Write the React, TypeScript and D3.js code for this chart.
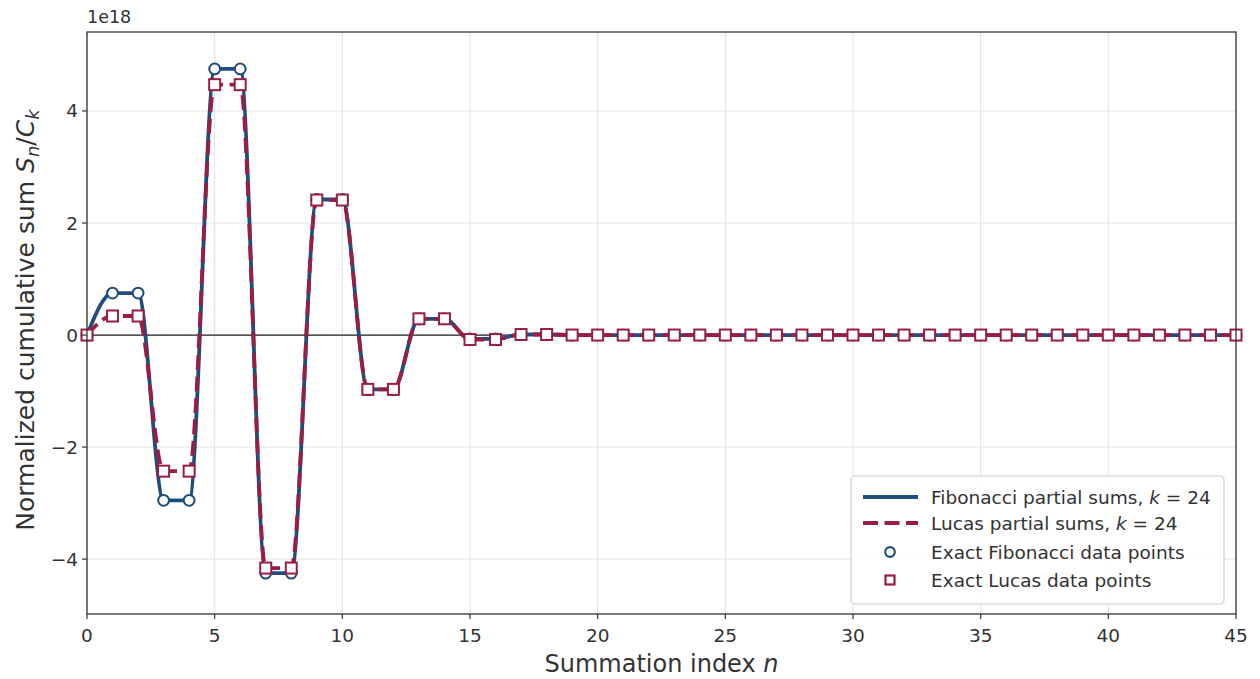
import { useEffect, useRef } from "react";
import * as d3 from "d3";

// summation index n = 0..45
const nIndex: number[] = d3.range(0, 46);

// normalized cumulative sums (units of 1e18)
const fibValues: number[] = [
  0, 0.75, 0.75, -2.95, -2.95, 4.75, 4.75, -4.25, -4.25, 2.42,
  2.42, -0.97, -0.97, 0.29, 0.29, -0.07, -0.07, 0.01, 0.01, 0,
  0, 0, 0, 0, 0, 0, 0, 0, 0, 0,
  0, 0, 0, 0, 0, 0, 0, 0, 0, 0,
  0, 0, 0, 0, 0, 0,
];
const lucasValues: number[] = [
  0, 0.34, 0.34, -2.43, -2.43, 4.47, 4.47, -4.16, -4.16, 2.41,
  2.41, -0.97, -0.97, 0.29, 0.29, -0.08, -0.08, 0.01, 0.01, 0,
  0, 0, 0, 0, 0, 0, 0, 0, 0, 0,
  0, 0, 0, 0, 0, 0, 0, 0, 0, 0,
  0, 0, 0, 0, 0, 0,
];

const xTicks: number[] = [0, 5, 10, 15, 20, 25, 30, 35, 40, 45];
const yTicks: number[] = [-4, -2, 0, 2, 4];

const BLUE = "#1f4e7d";
const RED = "#9b1c47";
const FONT = "DejaVu Sans, sans-serif";

export default function App() {
  const svgRef = useRef<SVGSVGElement | null>(null);

  useEffect(() => {
    if (!svgRef.current) return;
    const svg = d3.select(svgRef.current);
    svg.selectAll("*").remove();

    const left = 87, right = 1236, top = 32, bottom = 614;

    const x = d3.scaleLinear().domain([0, 45]).range([left, right]);
    const y = d3.scaleLinear().domain([-4.98, 5.41]).range([bottom, top]);

    svg.append("rect").attr("width", 1260).attr("height", 679).attr("fill", "#fff");

    // grid
    const grid = svg.append("g").attr("stroke", "#e3e3e3").attr("stroke-width", 1);
    xTicks.forEach((t) => {
      grid.append("line").attr("x1", x(t)).attr("x2", x(t)).attr("y1", top).attr("y2", bottom);
    });
    yTicks.forEach((t) => {
      grid.append("line").attr("x1", left).attr("x2", right).attr("y1", y(t)).attr("y2", y(t));
    });

    // zero line
    svg.append("line")
      .attr("x1", left).attr("x2", right)
      .attr("y1", y(0)).attr("y2", y(0))
      .attr("stroke", "#222").attr("stroke-width", 1.3);

    const clip = svg.append("defs").append("clipPath").attr("id", "plotclip");
    clip.append("rect").attr("x", left).attr("y", top).attr("width", right - left).attr("height", bottom - top);

    const plot = svg.append("g").attr("clip-path", "url(#plotclip)");

    const line = d3.line<number>()
      .x((_, i) => x(nIndex[i]))
      .y((d) => y(d))
      .curve(d3.curveMonotoneX);

    plot.append("path")
      .datum(fibValues)
      .attr("fill", "none")
      .attr("stroke", BLUE)
      .attr("stroke-width", 3.8)
      .attr("d", line);

    plot.append("path")
      .datum(lucasValues)
      .attr("fill", "none")
      .attr("stroke", RED)
      .attr("stroke-width", 3.8)
      .attr("stroke-dasharray", "15 6.5")
      .attr("d", line);

    const markers = svg.append("g");
    markers.selectAll("circle")
      .data(fibValues)
      .enter()
      .append("circle")
      .attr("cx", (_, i) => x(nIndex[i]))
      .attr("cy", (d) => y(d))
      .attr("r", 5.4)
      .attr("fill", "#fff")
      .attr("stroke", BLUE)
      .attr("stroke-width", 2);

    const sq = 11;
    markers.selectAll("rect.sq")
      .data(lucasValues)
      .enter()
      .append("rect")
      .attr("class", "sq")
      .attr("x", (_, i) => x(nIndex[i]) - sq / 2)
      .attr("y", (d) => y(d) - sq / 2)
      .attr("width", sq)
      .attr("height", sq)
      .attr("fill", "#fff")
      .attr("stroke", RED)
      .attr("stroke-width", 2);

    // spines
    svg.append("rect")
      .attr("x", left).attr("y", top)
      .attr("width", right - left).attr("height", bottom - top)
      .attr("fill", "none").attr("stroke", "#333").attr("stroke-width", 1.3);

    // x ticks
    const xAxis = svg.append("g");
    xTicks.forEach((t) => {
      xAxis.append("line").attr("x1", x(t)).attr("x2", x(t)).attr("y1", bottom).attr("y2", bottom + 5)
        .attr("stroke", "#333").attr("stroke-width", 1.2);
      xAxis.append("text").attr("x", x(t)).attr("y", bottom + 28)
        .attr("text-anchor", "middle").attr("font-family", FONT).attr("font-size", 18.5)
        .attr("fill", "#333").text(String(t));
    });

    // y ticks
    const yAxis = svg.append("g");
    yTicks.forEach((t) => {
      yAxis.append("line").attr("x1", left - 5).attr("x2", left).attr("y1", y(t)).attr("y2", y(t))
        .attr("stroke", "#333").attr("stroke-width", 1.2);
      yAxis.append("text").attr("x", left - 9).attr("y", y(t) + 6.5)
        .attr("text-anchor", "end").attr("font-family", FONT).attr("font-size", 18.5)
        .attr("fill", "#333").text(t < 0 ? "\u2212" + Math.abs(t) : String(t));
    });

    svg.append("text").attr("x", left).attr("y", 23)
      .attr("font-family", FONT).attr("font-size", 17.5).attr("fill", "#333").text("1e18");

    // x label
    const xl = svg.append("text").attr("x", (left + right) / 2).attr("y", 672)
      .attr("text-anchor", "middle").attr("font-family", FONT).attr("font-size", 24).attr("fill", "#333");
    xl.append("tspan").text("Summation index ");
    xl.append("tspan").attr("font-style", "italic").text("n");

    // y label
    const yl = svg.append("text")
      .attr("transform", `translate(34,320) rotate(-90)`)
      .attr("text-anchor", "middle").attr("font-family", FONT).attr("font-size", 25).attr("fill", "#333");
    yl.append("tspan").text("Normalized cumulative sum ");
    yl.append("tspan").attr("font-style", "italic").text("S");
    yl.append("tspan").attr("font-style", "italic").attr("font-size", 18).attr("dy", 5).text("n");
    yl.append("tspan").attr("dy", -5).text("/");
    yl.append("tspan").attr("font-style", "italic").text("C");
    yl.append("tspan").attr("font-style", "italic").attr("font-size", 18).attr("dy", 5).text("k");

    // legend
    const lg = svg.append("g");
    lg.append("rect").attr("x", 851).attr("y", 476).attr("width", 373).attr("height", 128).attr("rx", 4)
      .attr("fill", "#fff").attr("fill-opacity", 0.9).attr("stroke", "#ccc").attr("stroke-width", 1.2);

    const rows = [
      { kind: "line", color: BLUE, label: "Fibonacci partial sums, ", k: true },
      { kind: "dash", color: RED, label: "Lucas partial sums, ", k: true },
      { kind: "circle", color: BLUE, label: "Exact Fibonacci data points", k: false },
      { kind: "square", color: RED, label: "Exact Lucas data points", k: false },
    ];
    const rowY = [497, 523, 552, 580];
    rows.forEach((r, i) => {
      const cy = rowY[i];
      if (r.kind === "line" || r.kind === "dash") {
        lg.append("line").attr("x1", 863).attr("x2", 918).attr("y1", cy).attr("y2", cy)
          .attr("stroke", r.color).attr("stroke-width", 3.8)
          .attr("stroke-dasharray", r.kind === "dash" ? "15 6.5" : null);
      } else if (r.kind === "circle") {
        lg.append("circle").attr("cx", 890).attr("cy", cy).attr("r", 4.8)
          .attr("fill", "#fff").attr("stroke", r.color).attr("stroke-width", 2.2);
      } else {
        lg.append("rect").attr("x", 885.5).attr("y", cy - 4.5).attr("width", 9).attr("height", 9)
          .attr("fill", "#fff").attr("stroke", r.color).attr("stroke-width", 2.2);
      }
      const t = lg.append("text").attr("x", 931).attr("y", cy + 6.5)
        .attr("font-family", FONT).attr("font-size", 18.5).attr("fill", "#333");
      t.append("tspan").text(r.label);
      if (r.k) {
        t.append("tspan").attr("font-style", "italic").text("k");
        t.append("tspan").text(" = 24");
      }
    });
  }, []);

  return (
    <svg
      ref={svgRef}
      width={1260}
      height={679}
      style={{ position: "absolute", left: 0, top: 0 }}
    />
  );
}
